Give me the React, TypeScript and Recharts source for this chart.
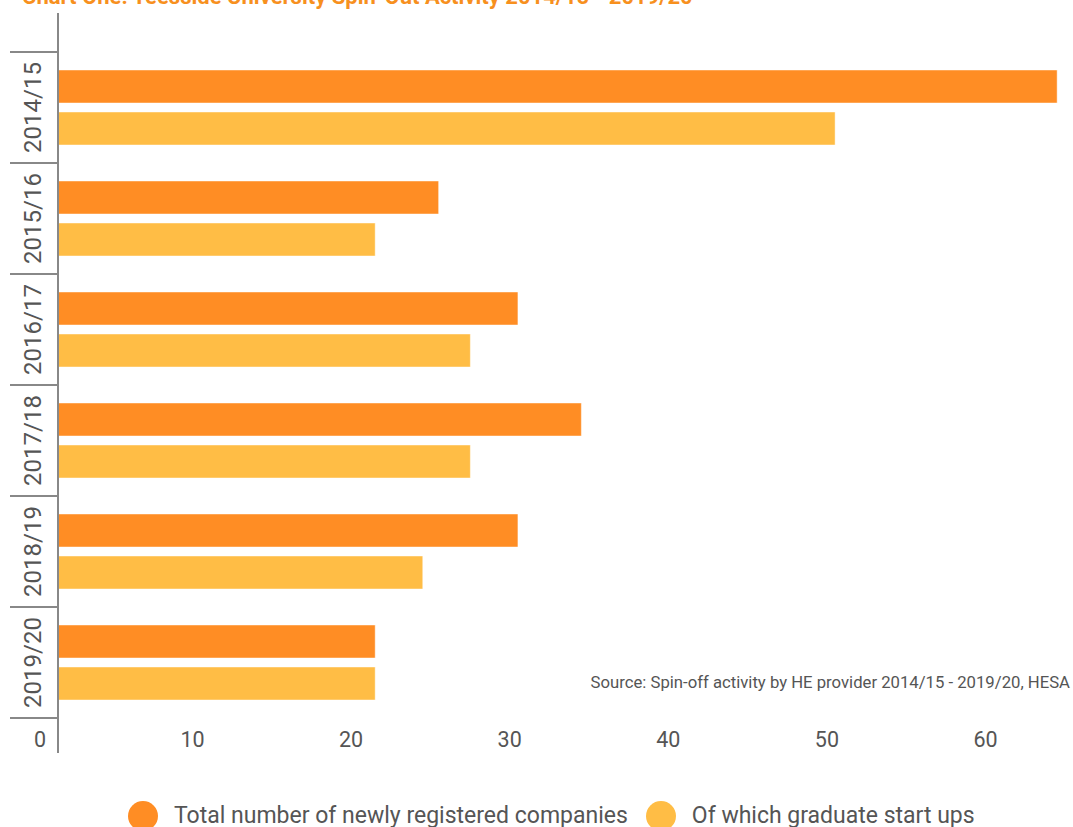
import React from 'react';
import { BarChart, Bar, XAxis, YAxis } from 'recharts';

const years = ['2014/15', '2015/16', '2016/17', '2017/18', '2018/19', '2019/20'];
const totalCompanies = [63, 24, 29, 33, 29, 20];
const graduateStartUps = [49, 20, 26, 26, 23, 20];
const xTicks = [0, 10, 20, 30, 40, 50, 60];

const seriesNames = ['Total number of newly registered companies', 'Of which graduate start ups'];
const seriesColors = ['#FF8D24', '#FFBD45'];

const titleText = 'Chart One: Teesside University Spin-Out Activity 2014/15 - 2019/20';
const sourceText = 'Source: Spin-off activity by HE provider 2014/15 - 2019/20, HESA';

const data = years.map((year, i) => ({
  year,
  total: totalCompanies[i],
  graduate: graduateStartUps[i],
}));

const FONT = 'Roboto, "Noto Sans", sans-serif';

const XTick = (props: any) => {
  const { x, y, payload } = props;
  return (
    <text x={x - 12} y={y - 6} textAnchor="end" fontSize={21.5} fill="#555" fontFamily={FONT}>
      {payload.value}
    </text>
  );
};

const YTick = (props: any) => {
  const { x, y, payload } = props;
  const off = payload && typeof payload.offset === 'number' ? payload.offset : 55.5;
  const isLast = payload.value === years[years.length - 1];
  return (
    <g>
      <line x1={10} x2={x} y1={y - off} y2={y - off} stroke="#888" strokeWidth={2} />
      {isLast && <line x1={10} x2={x} y1={y + off} y2={y + off} stroke="#888" strokeWidth={2} />}
      <text
        x={0}
        y={0}
        transform={`translate(${x - 17}, ${y}) rotate(-90)`}
        textAnchor="middle"
        fontSize={24}
        fill="#555"
        fontFamily={FONT}
      >
        {payload.value}
      </text>
    </g>
  );
};

export default function App() {
  return (
    <div
      style={{
        position: 'absolute',
        left: 0,
        top: 0,
        width: 1073,
        height: 827,
        overflow: 'hidden',
        background: '#fff',
        fontFamily: FONT,
      }}
    >
      <BarChart
        width={1073}
        height={827}
        data={data}
        layout="vertical"
        margin={{ top: 13, right: 0, bottom: 44, left: 0 }}
        barGap={9}
        barCategoryGap={18}
      >
        <XAxis
          type="number"
          domain={[0, 64]}
          ticks={xTicks}
          axisLine={false}
          tickLine={false}
          tickSize={0}
          tickMargin={0}
          height={30}
          tick={<XTick />}
          interval={0}
        />
        <YAxis
          type="category"
          dataKey="year"
          width={58}
          padding={{ top: 39, bottom: 35 }}
          axisLine={{ stroke: '#888', strokeWidth: 2 }}
          tickLine={false}
          tickSize={0}
          tickMargin={0}
          tick={<YTick />}
          interval={0}
        />
        <Bar
          dataKey="total"
          name={seriesNames[0]}
          fill={seriesColors[0]}
          stroke="rgba(255,255,255,0.45)"
          strokeWidth={1}
          isAnimationActive={false}
        />
        <Bar
          dataKey="graduate"
          name={seriesNames[1]}
          fill={seriesColors[1]}
          stroke="rgba(255,255,255,0.45)"
          strokeWidth={1}
          isAnimationActive={false}
        />
      </BarChart>
      <svg
        width={1073}
        height={827}
        style={{ position: 'absolute', left: 0, top: 0, pointerEvents: 'none' }}
      >
        <text x={22} y={4} fontSize={22} fontWeight="bold" fill="#F7901E" fontFamily={FONT}>
          {titleText}
        </text>
        <text x={1070} y={688} fontSize={16.7} textAnchor="end" fill="#555" fontFamily={FONT}>
          {sourceText}
        </text>
      </svg>
      <div
        style={{
          position: 'absolute',
          left: 128,
          top: 801,
          height: 30,
          display: 'flex',
          alignItems: 'center',
          whiteSpace: 'nowrap',
        }}
      >
        {seriesNames.map((name, i) => (
          <div key={name} style={{ display: 'flex', alignItems: 'center', marginRight: 18 }}>
            <div
              style={{
                width: 30,
                height: 30,
                borderRadius: 15,
                background: seriesColors[i],
                marginRight: 16,
              }}
            />
            <span style={{ fontSize: 23, lineHeight: '30px', color: '#555' }}>{name}</span>
          </div>
        ))}
      </div>
    </div>
  );
}
